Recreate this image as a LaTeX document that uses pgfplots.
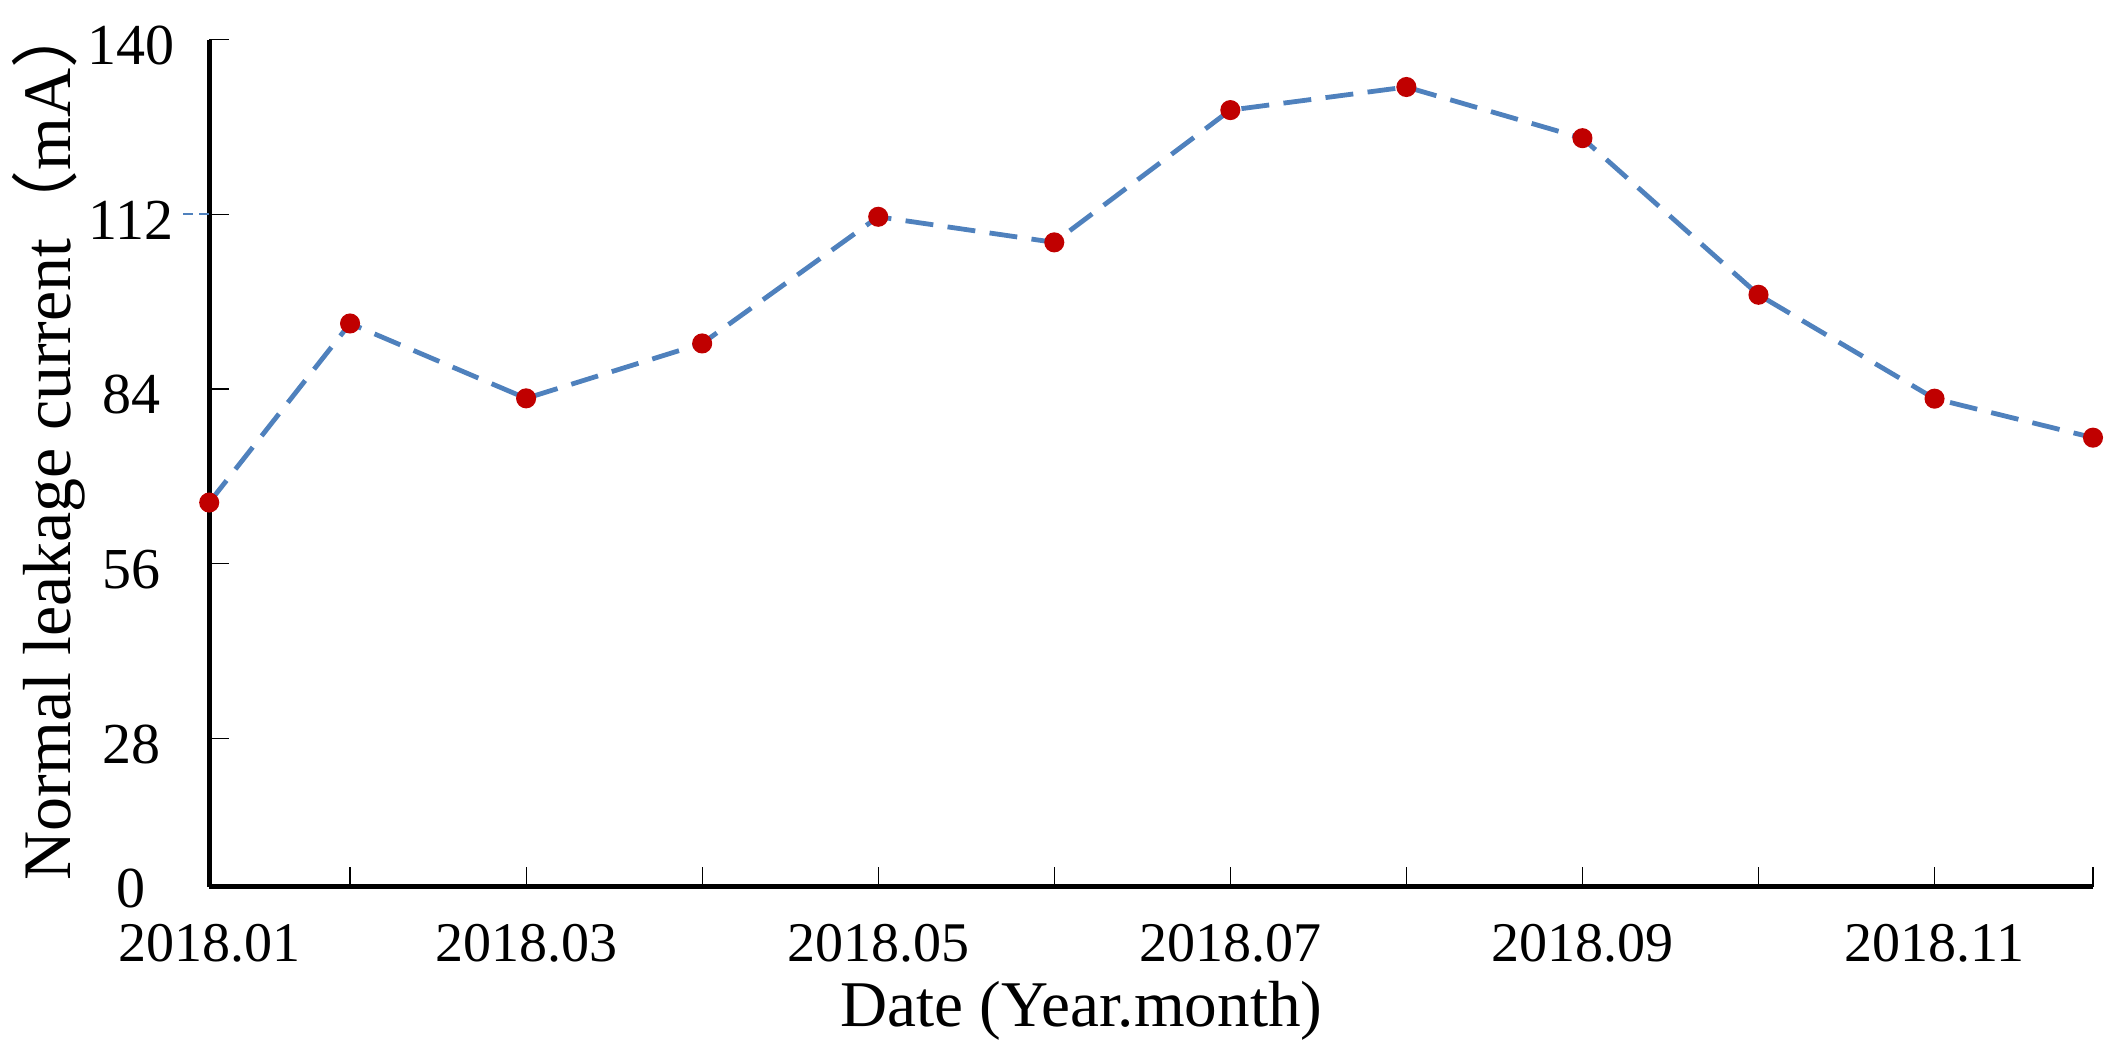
\documentclass[border=0pt]{standalone}
\usepackage{pgfplots}
\pgfplotsset{compat=1.18}
\usepackage{fontspec}
\setmainfont{Liberation Serif}
\newfontfamily\cjk{Noto Sans CJK SC}
\definecolor{lineblue}{HTML}{4F81BD}
\definecolor{markred}{HTML}{C00000}
\begin{document}
\begin{tikzpicture}
\begin{axis}[
  scale only axis, width=470.9pt, height=211.8pt,
  xmin=1.2, xmax=11.9, ymin=4.2, ymax=140,
  clip=false,
  axis lines=left,
  axis line style={line width=1.25pt, -},
  xtick={1.2,2,3,4,5,6,7,8,9,10,11,11.9},
  xticklabels={2018.01,,2018.03,,2018.05,,2018.07,,2018.09,,2018.11,},
  ytick={4.2,28,56,84,112,140},
  yticklabels={\raisebox{2.5pt}{0},28,56,84,112,140},
  tick align=inside,
  major tick length=5pt,
  tick style={black, line width=0.3pt},
  xticklabel style={font=\fontsize{14}{16}\selectfont, anchor=base, inner sep=0pt, yshift=-18.6pt},
  yticklabel style={font=\fontsize{14.5}{17}\selectfont, anchor=center, inner sep=0pt, xshift=-19.5pt, yshift=-1.5pt},
  xlabel={Date (Year.month)},
  xlabel style={font=\fontsize{16.3}{19}\selectfont, at={(rel axis cs:0.463,0)}, anchor=base, inner sep=0pt, yshift=-34.8pt},
  ylabel={\raisebox{0pt}[\height][0pt]{Normal leakage current{\cjk （}mA{\cjk ）}}},
  ylabel style={font=\fontsize{17}{20}\selectfont, at={(rel axis cs:0,0.527)}, anchor=base, inner sep=0pt, yshift=34.6pt},
]
\addplot[color=lineblue, line width=1.2pt, dash pattern=on 7pt off 3.6pt,
  mark=*, mark size=1.9pt, mark options={solid, fill=markred, draw=markred}]
  coordinates {(1.2,65.8) (2,94.5) (3,82.5) (4,91.3) (5,111.6) (6,107.5) (7,128.7) (8,132.4) (9,124.2) (10,99.1) (11,82.45) (11.9,76.2)};
\draw[lineblue, line width=0.5pt, dash pattern=on 2.5pt off 1.5pt] ([xshift=-6.5pt]axis cs:1.2,112) -- (axis cs:1.2,112);
\coordinate (ll) at (rel axis cs:0,0);
\coordinate (ur) at (rel axis cs:1,1);
\end{axis}
\pgfresetboundingbox
\path ([shift={(-52.3pt,-40.6pt)}]ll) rectangle ([shift={(7.5pt,9.9pt)}]ur);
\end{tikzpicture}
\end{document}
